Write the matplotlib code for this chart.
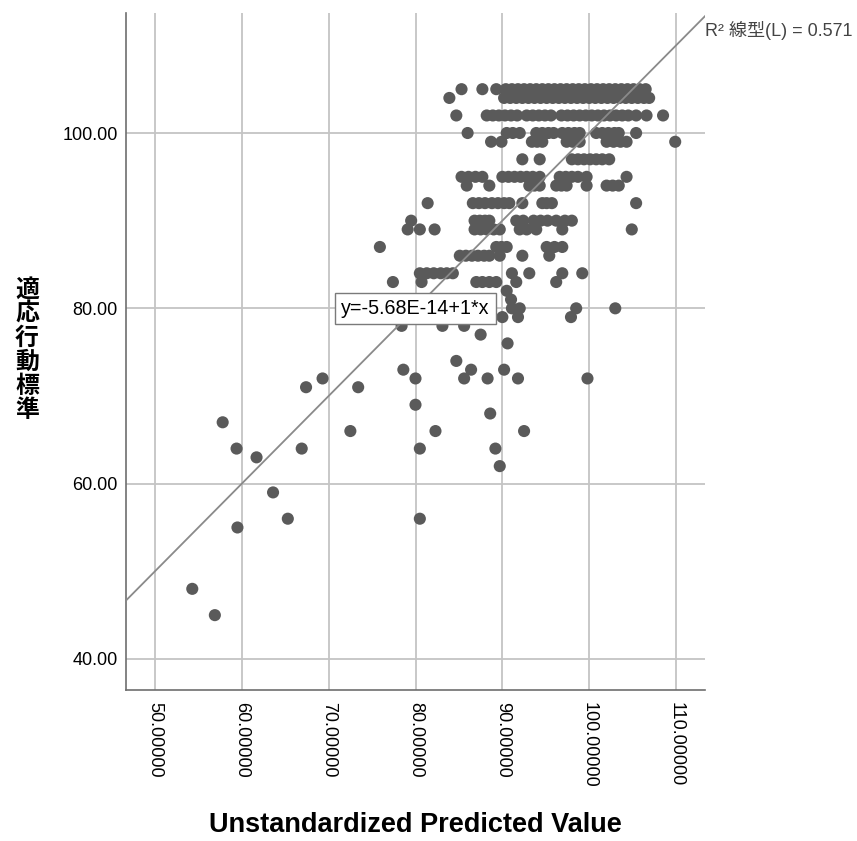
import matplotlib
matplotlib.use("Agg")
import matplotlib.pyplot as plt
import numpy as np

# ---- data: predicted values (x) grouped by observed score (y) ----
score_levels = [105, 104, 102, 100, 99, 97, 95, 94, 92, 90, 89, 87, 86, 84, 83,
                82, 81, 80, 79, 78, 77, 76, 74, 73, 72, 71, 69, 68, 67, 66, 64,
                63, 62, 59, 56, 55, 48, 45]

pred_105 = [85.3, 87.7, 89.3, 90.4, 91.1, 91.8, 92.5, 93.2, 93.9, 94.6, 95.3, 96.0,
            96.7, 97.4, 98.1, 98.8, 99.5, 100.2, 100.9, 101.6, 102.3, 103.0, 103.7,
            104.4, 105.1, 105.8, 106.5]
pred_104 = [83.9, 90.2, 90.9, 91.6, 92.3, 93.0, 93.7, 94.4, 95.1, 95.8, 96.5, 97.2,
            97.9, 98.6, 99.3, 100.0, 100.7, 101.4, 102.1, 102.8, 103.5, 104.2, 104.9,
            105.6, 106.3, 106.9]
pred_102 = [84.7, 88.2, 88.9, 89.6, 90.3, 91.0, 91.7, 92.8, 93.5, 94.2, 94.9, 95.6,
            96.8, 97.5, 98.2, 98.9, 99.6, 100.3, 101.0, 101.7, 102.4, 103.1, 103.8,
            104.5, 105.4, 106.6, 108.5]
pred_100 = [86.0, 90.5, 91.2, 92.0, 93.9, 94.6, 95.3, 95.9, 96.9, 97.6, 98.3, 98.9,
            100.8, 101.5, 102.2, 102.9, 103.4, 105.4]
pred_99 = [88.7, 89.9, 93.4, 94.0, 94.6, 97.4, 98.1, 98.9, 102.0, 102.8, 103.6, 104.3, 109.9]
pred_97 = [92.3, 94.3, 98.0, 98.7, 99.4, 100.1, 100.8, 101.5, 102.3]
pred_95 = [85.3, 86.1, 86.9, 87.7, 90.0, 90.7, 91.4, 92.1, 92.8, 93.5, 94.3, 96.6,
           97.3, 98.0, 98.7, 99.7, 104.3]
pred_94 = [85.9, 88.5, 93.1, 93.7, 94.3, 96.2, 96.8, 97.4, 99.7, 102.0, 102.7, 103.4]
pred_92 = [81.4, 86.6, 87.3, 88.0, 88.8, 89.5, 90.2, 90.8, 92.3, 94.6, 95.1, 95.7, 105.4]
pred_90 = [79.5, 86.8, 87.4, 88.0, 88.5, 91.6, 92.4, 93.6, 94.4, 95.2, 96.2, 97.2, 98.0]
pred_89 = [79.1, 80.5, 82.2, 86.8, 87.5, 88.2, 89.0, 89.7, 92.0, 92.8, 93.9, 96.9, 104.9]
pred_87 = [75.9, 89.3, 89.9, 90.5, 95.1, 96.0, 96.9]
pred_86 = [85.1, 85.8, 86.5, 87.2, 87.9, 88.5, 89.7, 92.3, 95.4]
pred_84 = [80.5, 81.3, 82.1, 82.9, 83.6, 84.3, 91.1, 93.1, 96.9, 99.2]
pred_83 = [77.4, 80.7, 87.0, 87.7, 88.5, 89.3, 91.6, 96.2]
pred_82 = [90.5]
pred_81 = [91.0]
pred_80 = [91.1, 92.0, 98.5, 103.0]
pred_79 = [90.0, 91.8, 97.9]
pred_78 = [78.4, 83.1, 85.6]
pred_77 = [87.5]
pred_76 = [90.6]
pred_74 = [84.7]
pred_73 = [78.6, 86.4, 90.2]
pred_72 = [69.3, 80.0, 85.6, 88.3, 91.8, 99.8]
pred_71 = [67.4, 73.4]
pred_69 = [80.0]
pred_68 = [88.6]
pred_67 = [57.8]
pred_66 = [72.5, 82.3, 92.5]
pred_64 = [59.4, 66.9, 80.5, 89.2]
pred_63 = [61.7]
pred_62 = [89.7]
pred_59 = [63.6]
pred_56 = [65.3, 80.5]
pred_55 = [59.5]
pred_48 = [54.3]
pred_45 = [56.9]

pred_rows = [pred_105, pred_104, pred_102, pred_100, pred_99, pred_97, pred_95, pred_94,
             pred_92, pred_90, pred_89, pred_87, pred_86, pred_84, pred_83, pred_82,
             pred_81, pred_80, pred_79, pred_78, pred_77, pred_76, pred_74, pred_73,
             pred_72, pred_71, pred_69, pred_68, pred_67, pred_66, pred_64, pred_63,
             pred_62, pred_59, pred_56, pred_55, pred_48, pred_45]

fit_intercept = -5.68e-14
fit_slope = 1.0
r_squared = 0.571

x_ticks = [50, 60, 70, 80, 90, 100, 110]
y_ticks = [40, 60, 80, 100]

x_label = "Unstandardized Predicted Value"
y_label = "適応行動標準"
fit_text = "y=-5.68E-14+1*x"

# ---- build ----
xs, ys = [], []
for lvl, row in zip(score_levels, pred_rows):
    xs.extend(row)
    ys.extend([lvl] * len(row))

W, H = 857, 841
fig = plt.figure(figsize=(W / 100, H / 100), dpi=100)
ax = fig.add_axes([126 / W, 1 - 690 / H, (705 - 126) / W, (690 - 13) / H])

xlim = (46.67, 113.33)
ylim = (36.46, 113.69)
ax.set_xlim(*xlim)
ax.set_ylim(*ylim)

ax.set_xticks(x_ticks)
ax.set_yticks(y_ticks)
ax.grid(True, color="#c4c4c4", linewidth=1.3)
ax.set_axisbelow(True)
ax.tick_params(axis="y", length=0, pad=6, labelcolor="#000000")
ax.tick_params(axis="x", length=0, pad=9, labelcolor="#000000")
ax.set_xticklabels([f"{v:.5f}" for v in x_ticks], rotation=270,
                   family="Liberation Sans", fontsize=13)
ax.set_yticklabels([f"{v:.2f}" for v in y_ticks],
                   family="Liberation Sans", fontsize=13)

for s in ["top", "right"]:
    ax.spines[s].set_visible(False)
for s in ["left", "bottom"]:
    ax.spines[s].set_color("#6e6e6e")
    ax.spines[s].set_linewidth(1.2)

ax.scatter(xs, ys, s=76, color="#5a5a5a", edgecolors="none", zorder=3)

lx = np.array(xlim)
ax.plot(lx, fit_intercept + fit_slope * lx, color="#8a8a8a", linewidth=1.3, zorder=4)

ax.text(80.0, 80.0, fit_text, ha="center", va="center", fontsize=14.2,
        family="Liberation Sans", zorder=6,
        bbox=dict(boxstyle="square,pad=0.3", facecolor="white", edgecolor="#7a7a7a",
                  linewidth=1.0))

fig.text(705 / W, 1 - 30 / H, "R² 線型(L) = " + f"{r_squared:.3f}",
         ha="left", va="center", fontsize=13, color="#444444",
         family=["Liberation Sans", "Noto Sans CJK JP"])

fig.text(415 / W, 1 - 825 / H, x_label, ha="center", va="center",
         fontsize=19.5, fontweight="bold", family="Liberation Sans")
fig.text(27 / W, 1 - 350 / H, "\n".join(y_label), ha="center", va="center",
         fontsize=17.2, fontweight="bold", family="Noto Sans CJK JP", linespacing=1.0)

fig.savefig("out.png", dpi=100)
